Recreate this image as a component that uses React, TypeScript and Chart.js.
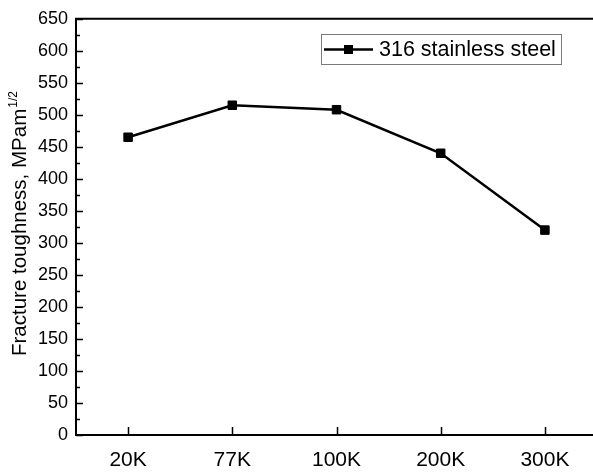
import React, { useEffect, useRef } from "react";
import { Chart, registerables } from "chart.js";

Chart.register(...registerables);

const categories = ["20K", "77K", "100K", "200K", "300K"];
const toughness = [465, 515, 508, 440, 320];
const seriesName = "316 stainless steel";
const yTitle = "Fracture toughness, MPam";
const yTitleSup = "1/2";
const yMin = 0;
const yMax = 650;
const yStep = 50;

const FONT = "'Liberation Sans', Arial, sans-serif";

const framePlugin = {
  id: "frame",
  afterDraw(chart: any) {
    const { ctx, chartArea } = chart;
    const xs = chart.scales.x;
    const ys = chart.scales.y;
    ctx.save();
    ctx.strokeStyle = "#000";
    // top border
    ctx.lineWidth = 2;
    ctx.beginPath();
    ctx.moveTo(chartArea.left - 1, chartArea.top);
    ctx.lineTo(chartArea.right, chartArea.top);
    ctx.stroke();
    // inner ticks
    ctx.lineWidth = 1.5;
    ctx.beginPath();
    for (let v = yMin; v <= yMax; v += yStep / 2) {
      const y = Math.round(ys.getPixelForValue(v)) + 0.5;
      const major = v % yStep === 0;
      ctx.moveTo(chartArea.left, y);
      ctx.lineTo(chartArea.left + (major ? 7 : 4), y);
    }
    categories.forEach((_, i) => {
      const x = Math.round(xs.getPixelForValue(i + 1)) + 0.5;
      ctx.moveTo(x, chartArea.bottom);
      ctx.lineTo(x, chartArea.bottom - 8);
    });
    ctx.stroke();

    // legend
    const bx = 321, by = 34, bw = 240, bh = 30;
    ctx.lineWidth = 1;
    ctx.strokeStyle = "#7a7a7a";
    ctx.strokeRect(bx + 0.5, by + 0.5, bw, bh);
    const ly = by + bh / 2 + 0.5;
    ctx.strokeStyle = "#000";
    ctx.lineWidth = 2.5;
    ctx.beginPath();
    ctx.moveTo(bx + 3, ly);
    ctx.lineTo(bx + 52, ly);
    ctx.stroke();
    ctx.fillStyle = "#000";
    ctx.fillRect(bx + 23, ly - 4.5, 9, 9);
    ctx.font = `21.5px ${FONT}`;
    ctx.textBaseline = "middle";
    ctx.textAlign = "left";
    ctx.fillText(seriesName, bx + 58, ly + 1);

    // y title with superscript
    ctx.translate(26, 356);
    ctx.rotate(-Math.PI / 2);
    ctx.textBaseline = "alphabetic";
    ctx.font = `20.5px ${FONT}`;
    ctx.fillText(yTitle, 0, 0);
    const w = ctx.measureText(yTitle).width;
    ctx.font = `12px ${FONT}`;
    ctx.fillText(yTitleSup, w + 1, -9);
    ctx.restore();
  },
};

export default function App() {
  const ref = useRef<HTMLCanvasElement | null>(null);
  useEffect(() => {
    if (!ref.current) return;
    const chart = new Chart(ref.current, {
      type: "line",
      data: {
        datasets: [
          {
            label: seriesName,
            data: toughness.map((v, i) => ({ x: i + 1, y: v })),
            borderColor: "#000",
            backgroundColor: "#000",
            borderWidth: 2.5,
            pointStyle: "rect",
            pointRadius: 6,
            pointBorderWidth: 1,
            tension: 0,
          },
        ],
      },
      options: {
        animation: false,
        responsive: false,
        layout: { padding: { top: 16, left: 0, right: 0, bottom: 0 } },
        plugins: { legend: { display: false }, tooltip: { enabled: false } },
        scales: {
          x: {
            type: "linear",
            min: 0.5,
            max: 0.5 + 517 / 104,
            afterBuildTicks: (s: any) => {
              s.ticks = categories.map((_, i) => ({ value: i + 1 }));
            },
            afterFit: (s: any) => {
              s.height = 38;
            },
            ticks: {
              callback: (v: any) => categories[Math.round(Number(v)) - 1] ?? "",
              font: { family: FONT, size: 21 },
              color: "#000",
              padding: 13,
              maxRotation: 0,
              autoSkip: false,
            },
            grid: { display: false, drawTicks: false },
            border: { display: true, color: "#000", width: 2 },
          },
          y: {
            min: yMin,
            max: yMax,
            afterFit: (s: any) => {
              s.width = 76;
            },
            ticks: {
              stepSize: yStep,
              font: { family: FONT, size: 18 },
              color: "#000",
              padding: 8,
            },
            grid: { display: false, drawTicks: false },
            border: { display: true, color: "#000", width: 2 },
          },
        },
      },
      plugins: [framePlugin],
    });
    return () => chart.destroy();
  }, []);
  return (
    <div style={{ position: "fixed", left: 0, top: 0, width: 593, height: 473, overflow: "hidden", background: "#fff" }}>
      <canvas ref={ref} width={601} height={473} style={{ display: "block" }} />
    </div>
  );
}
